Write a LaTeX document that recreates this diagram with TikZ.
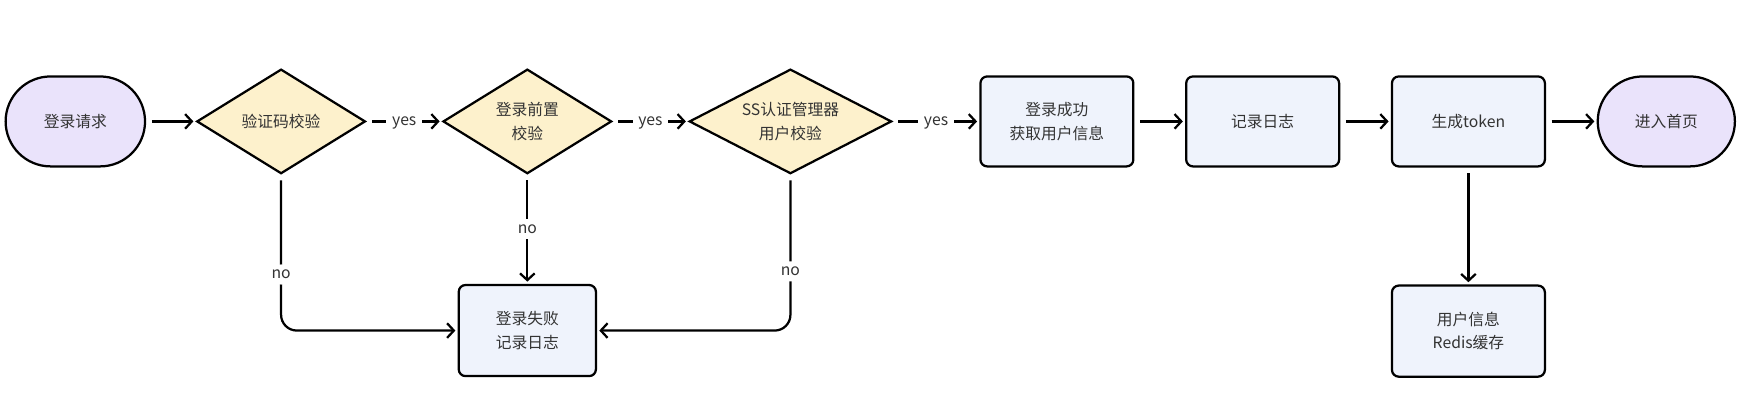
\documentclass[tikz,border=0pt]{standalone}
\usepackage{fontspec}
\setmainfont{Noto Sans CJK SC}
\usepackage{tikz}
\usetikzlibrary{shapes.geometric, arrows, arrows.meta}
\usetikzlibrary{shapes,positioning}
\definecolor{termfill}{HTML}{EAE3FB}
\definecolor{decfill}{HTML}{FDF1CC}
\definecolor{procfill}{HTML}{EFF3FC}
\definecolor{txt}{HTML}{333333}
\tikzstyle{terminal} = [rectangle, rounded corners=40pt, minimum width=124pt, minimum height=80pt, draw, line width=2pt, fill=termfill, text=txt]
\tikzstyle{decision} = [diamond, aspect=1.6, minimum width=150pt, minimum height=93pt, inner sep=0pt, draw, line width=2pt, fill=decfill, text=txt]
\tikzstyle{process} = [rectangle, rounded corners=6pt, minimum width=136pt, minimum height=80pt, draw, line width=2pt, fill=procfill, text=txt]
\tikzstyle{arrow} = [line width=2pt,->,>={Straight Barb[length=6pt,width=13pt]}, shorten <=5pt, shorten >=2pt]
\tikzstyle{branch} = [fill=white, inner sep=5pt, text=txt]

\begin{document}
\begin{tikzpicture}[
        x=1pt, y=1pt,
        every node/.style={align=center, font=\fontsize{14}{21}\selectfont}
        ]
        \useasboundingbox (0,0) rectangle (1568,-365.5);
        % main line
        \node[terminal] (start) at (67,-108) {登录请求};
        \node[decision, right=44pt of start] (chk1) {验证码校验};
        \node[decision, right=67pt of chk1] (chk2) {登录前置\\校验};
        \node[decision, aspect=1.94, minimum width=180pt, right=67pt of chk2] (chk3) {SS认证管理器\\用户校验};
        \node[process, right=77pt of chk3] (succ) {登录成功\\获取用户信息};
        \node[process, right=45pt of succ] (log) {记录日志};
        \node[process, right=45pt of log] (token) {生成token};
        \node[terminal, minimum width=122pt, right=45pt of token] (home) {进入首页};
        % lower row
        \node[process, minimum width=122pt, minimum height=81pt, below=97pt of chk2] (fail) {登录失败\\记录日志};
        \node[process, minimum height=81pt, below=104pt of token] (cache) {用户信息\\Redis缓存};

        \draw[arrow] (start) -- (chk1);
        \draw[arrow] (chk1) -- node[branch, yshift=-1.5pt]{yes} (chk2);
        \draw[arrow] (chk2) -- node[branch, yshift=-1.5pt]{yes} (chk3);
        \draw[arrow] (chk3) -- node[branch, yshift=-1.5pt]{yes} (succ);
        \draw[arrow] (succ) -- (log);
        \draw[arrow] (log) -- (token);
        \draw[arrow] (token) -- (home);
        \draw[arrow] (token) -- (cache);
        \draw[arrow] (chk2) -- node[branch]{no} (fail);
        \draw[arrow, rounded corners=14pt] (chk1) |- node[branch, pos=0.32]{no} (fail);
        \draw[arrow, rounded corners=14pt] (chk3) |- node[branch, pos=0.31]{no} (fail);
\end{tikzpicture}
\end{document}
